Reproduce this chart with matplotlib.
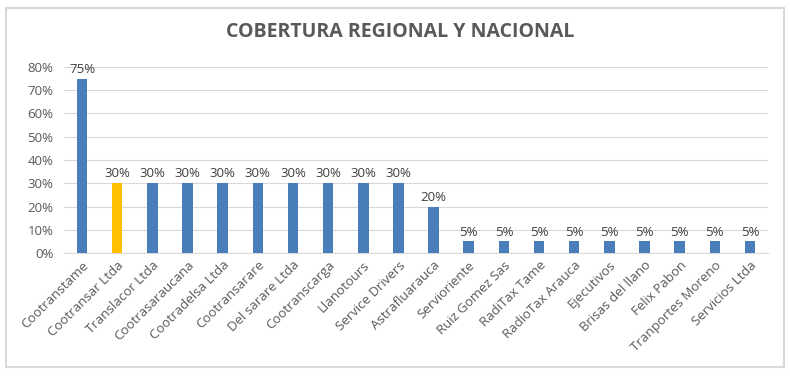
import matplotlib

matplotlib.use("Agg")
import matplotlib.pyplot as plt
from matplotlib.patches import Rectangle
from matplotlib.ticker import PercentFormatter

companies = [
    "Cootranstame", "Cootransar Ltda", "Translacor Ltda", "Cootrasaraucana",
    "Cootradelsa Ltda", "Cootransarare", "Del sarare Ltda", "Cootranscarga",
    "Llanotours", "Service Drivers", "Astrafluarauca", "Servioriente",
    "Ruiz Gomez Sas", "RadiTax Tame", "RadioTax Arauca", "Ejecutivos",
    "Brisas del llano", "Felix Pabon", "Tranportes Moreno", "Servicios Ltda",
]
coverage = [0.75, 0.30, 0.30, 0.30, 0.30, 0.30, 0.30, 0.30, 0.30, 0.30,
            0.20, 0.05, 0.05, 0.05, 0.05, 0.05, 0.05, 0.05, 0.05, 0.05]
highlight = "Cootransar Ltda"

plt.rcParams["font.family"] = ["Open Sans", "DejaVu Sans"]

fig = plt.figure(figsize=(7.9, 3.76), dpi=100)
ax = fig.add_axes([0.0816, 0.327, 0.890, 0.495])

colors = ["#FFC000" if c == highlight else "#4A7EBB" for c in companies]
x = range(len(companies))
ax.bar(x, coverage, width=0.3, color=colors, zorder=3)
for xi, v in zip(x, coverage):
    ax.text(xi, v + 0.012, f"{v:.0%}", ha="center", va="bottom", fontsize=9.5, color="#404040")

ax.set_xlim(-0.5, len(companies) - 0.5)
ax.set_ylim(0, 0.8)
ax.set_yticks([i / 10 for i in range(9)])
ax.yaxis.set_major_formatter(PercentFormatter(1.0, decimals=0))
ax.grid(axis="y", color="#d9d9d9", linewidth=0.8, zorder=0)
ax.set_xticks(list(x))
ax.set_xticklabels(companies, rotation=45, ha="right", rotation_mode="anchor", fontsize=9.5, color="#595959")
ax.tick_params(axis="y", labelsize=9.5, labelcolor="#595959", length=0, pad=8)
ax.tick_params(axis="x", length=0, pad=4)
for side in ["top", "right", "left"]:
    ax.spines[side].set_visible(False)
ax.spines["bottom"].set_color("#d9d9d9")

fig.text(0.507, 0.915, "COBERTURA REGIONAL Y NACIONAL", ha="center", va="center",
         fontsize=14, fontweight="bold", color="#595959")
fig.patches.append(Rectangle((0.008, 0.025), 0.984, 0.955, transform=fig.transFigure,
                             fill=False, edgecolor="#d9d9d9", linewidth=1.5))

fig.savefig("out.png", dpi=100)
